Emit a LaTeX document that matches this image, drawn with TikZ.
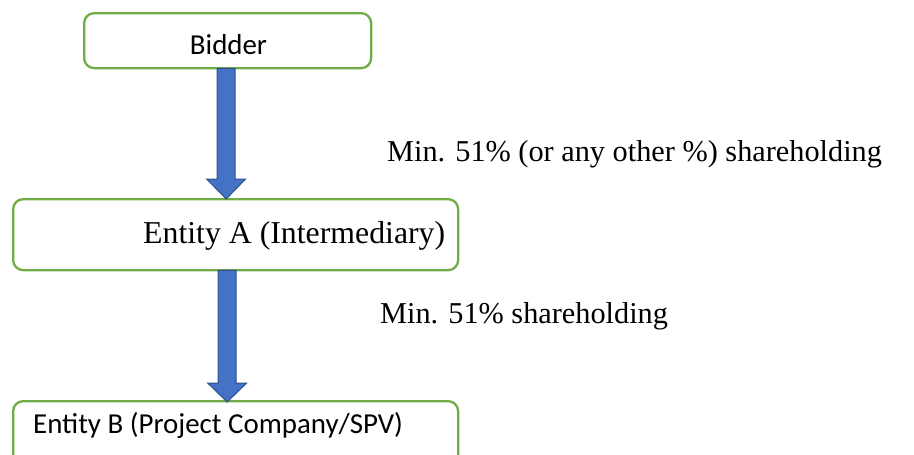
\documentclass[tikz,border=0pt]{standalone}
\usepackage{fontspec}
\setmainfont{Liberation Serif}
\newfontfamily\calib{Carlito}
\usetikzlibrary{calc}
\definecolor{boxgreen}{HTML}{70AD47}
\definecolor{arrfill}{HTML}{4472C4}
\definecolor{arrline}{HTML}{2F528F}
\begin{document}
\begin{tikzpicture}[x=1pt,y=1pt,
  entbox/.style={draw=boxgreen,line width=2.3pt,rounded corners=10pt,fill=white,inner sep=0pt,anchor=north west},
  bigarrow/.style={fill=arrfill,draw=arrline,line width=1pt,line join=miter},
  serifl/.style={font=\fontsize{30.3}{36}\selectfont,inner sep=0pt,anchor=base west},
  sansl/.style={font=\calib\fontsize{28.9}{34}\selectfont,inner sep=0pt}]
\useasboundingbox (0,0) rectangle (914,-455);
% boxes
\node[entbox,minimum width=287pt,minimum height=55pt] (bid) at (83,-12) {};
\node[entbox,minimum width=445pt,minimum height=71pt] (ea) at (12,-198) {};
\node[entbox,minimum width=445pt,minimum height=70pt] (eb) at (12,-400) {};
% texts
\node[sansl,anchor=base] (bidt) at (228.5,-54) {Bidder};
\node[inner sep=0pt,anchor=base west,font=\fontsize{31.8}{38}\selectfont] (eat) at (143,-243) {Entity A (Intermediary)};
\node[sansl,anchor=base west] (ebt) at (33,-433) {Entity B (Project Company/SPV)};
\node[serifl] (l1) at (387,-161) {Min. 51\% (or any other \%) shareholding};
\node[serifl] (l2) at (380,-323) {Min. 51\% shareholding};
% arrows
\coordinate (s1) at ($(bid.south)+(-1.5,1)$);
\coordinate (t1) at ($(ea.north)+(-9.5,-1)$);
\draw[bigarrow] ($(s1)+(-9,0)$) -- ($(t1)+(-9,20)$) -- ($(t1)+(-19.5,20)$) -- (t1)
  -- ($(t1)+(19.5,20)$) -- ($(t1)+(9,20)$) -- ($(s1)+(9,0)$) -- cycle;
\coordinate (s2) at ($(ea.south)+(-8.5,1)$);
\coordinate (t2) at ($(eb.north)+(-8.5,-2)$);
\draw[bigarrow] ($(s2)+(-9,0)$) -- ($(t2)+(-9,19)$) -- ($(t2)+(-19.5,19)$) -- (t2)
  -- ($(t2)+(19.5,19)$) -- ($(t2)+(9,19)$) -- ($(s2)+(9,0)$) -- cycle;
\end{tikzpicture}
\end{document}
